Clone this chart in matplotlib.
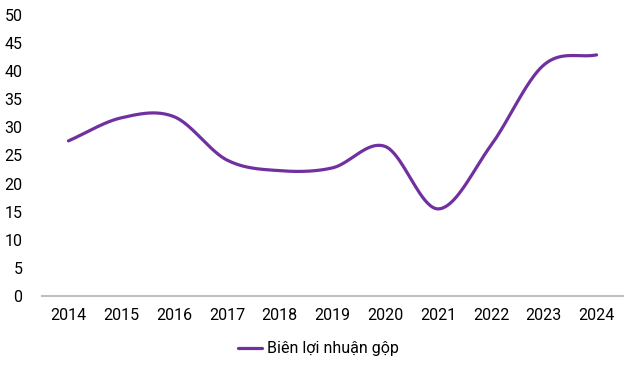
"""Gross margin line chart (Biên lợi nhuận gộp), 2014-2024, Excel-style smoothed line."""

import matplotlib

matplotlib.use("Agg")

import matplotlib.pyplot as plt
import numpy as np

plt.rcParams["font.family"] = ["Roboto", "DejaVu Sans"]

years = ["2014", "2015", "2016", "2017", "2018", "2019",
         "2020", "2021", "2022", "2023", "2024"]
gross_margin = [27.6, 31.7, 31.9, 24.2, 22.3, 22.8,
                26.6, 15.5, 26.8, 41.1, 42.9]
series_label = "Biên lợi nhuận gộp"

LINE_COLOR = "#7030A0"


def smooth_curve(y, steps=40):
    """Catmull-Rom through the data points, similar to Excel's smoothed line."""
    y = np.asarray(y, dtype=float)
    n = len(y)
    slopes = np.empty(n)
    slopes[1:-1] = (y[2:] - y[:-2]) / 2.0
    slopes[0] = y[1] - y[0]
    slopes[-1] = y[-1] - y[-2]
    xs, ys = [], []
    t = np.linspace(0.0, 1.0, steps, endpoint=False)
    h00 = 2 * t**3 - 3 * t**2 + 1
    h10 = t**3 - 2 * t**2 + t
    h01 = -2 * t**3 + 3 * t**2
    h11 = t**3 - t**2
    for i in range(n - 1):
        xs.append(i + t)
        ys.append(h00 * y[i] + h10 * slopes[i] + h01 * y[i + 1] + h11 * slopes[i + 1])
    xs.append(np.array([n - 1.0]))
    ys.append(np.array([y[-1]]))
    return np.concatenate(xs), np.concatenate(ys)


fig = plt.figure(figsize=(6.37, 3.70), dpi=100)
ax = fig.add_axes([0.066, 0.2, 0.912, 0.7595])

sx, sy = smooth_curve(gross_margin)
ax.plot(sx, sy, color=LINE_COLOR, lw=2.3, solid_capstyle="round",
        label=series_label)

ax.set_xlim(-0.5, len(years) - 0.5)
ax.set_ylim(0, 50)
ax.set_xticks(range(len(years)))
ax.set_xticklabels(years)
ax.set_yticks(range(0, 51, 5))
ax.tick_params(axis="both", length=0, labelsize=11.5, colors="#000000")
ax.tick_params(axis="x", pad=9)
ax.tick_params(axis="y", pad=14)

for side in ("top", "right", "left"):
    ax.spines[side].set_visible(False)
ax.spines["bottom"].set_color("#bfbfbf")
ax.spines["bottom"].set_linewidth(1.5)

fig.legend(loc="center", bbox_to_anchor=(0.5, 0.057), frameon=False,
           fontsize=11.5, handlelength=1.5, handletextpad=0.3)

fig.savefig("out.png", dpi=100)
